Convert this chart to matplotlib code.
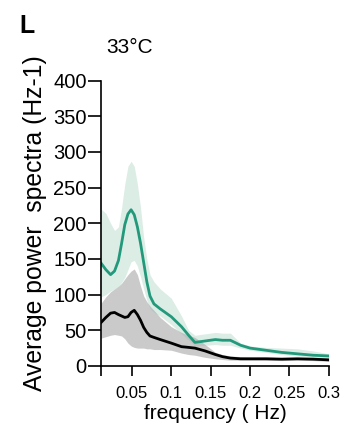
import matplotlib
matplotlib.use("Agg")
import matplotlib.pyplot as plt
import numpy as np

plt.rcParams["font.family"] = ["Liberation Sans", "DejaVu Sans"]

# frequency grid (Hz)
freq = [0.011, 0.017, 0.023, 0.028, 0.033, 0.037, 0.041, 0.045, 0.049, 0.053,
        0.057, 0.061, 0.065, 0.069, 0.073, 0.078, 0.086, 0.1, 0.113, 0.122,
        0.13, 0.143, 0.156, 0.165, 0.175, 0.188, 0.2, 0.22, 0.24, 0.26,
        0.28, 0.3]

# green series (mean and band)
green_mean = [144, 135, 128, 133, 148, 172, 198, 213, 219, 212,
              195, 172, 145, 118, 98, 87, 80, 69, 55, 43,
              33, 35, 37, 36, 36, 29, 25, 22, 19, 17,
              15, 14]
green_upper = [220, 214, 200, 190, 195, 222, 255, 280, 287, 280,
               255, 222, 180, 150, 128, 118, 108, 95, 70, 50,
               43, 45, 47, 46, 46, 32, 28, 26, 25, 24,
               21, 17]
green_lower = [97, 100, 105, 108, 112, 117, 124, 135, 146, 148,
               140, 125, 108, 92, 80, 75, 70, 58, 45, 36,
               28, 29, 30, 29, 29, 25, 22, 19, 16, 14,
               12, 11]

# black series (mean and band)
black_mean = [61, 68, 74, 75, 72, 70, 68, 69, 75, 78,
              72, 64, 54, 47, 42, 40, 37, 32, 27, 26,
              25, 21, 16, 13, 11, 10, 10, 10, 9.5, 10,
              9.5, 8.5]
black_upper = [88, 97, 104, 108, 112, 116, 122, 128, 133, 136,
               128, 112, 98, 90, 84, 78, 68, 55, 47, 43,
               40, 30, 19, 16, 14, 13, 12.5, 12.5, 12, 12,
               12, 11]
black_lower = [39, 41, 43, 44, 43, 42, 38, 32, 28, 26,
               25, 25, 25, 24, 24, 23, 23, 22, 18, 16,
               15, 12, 10, 9, 8, 8, 8, 8, 7.5, 8,
               7.5, 6.5]

xticks = [0.011, 0.05, 0.1, 0.15, 0.2, 0.25, 0.3]
xticklabels = ["", "0.05", "0.1", "0.15", "0.2", "0.25", "0.3"]
yticks = [0, 50, 100, 150, 200, 250, 300, 350, 400]

fig = plt.figure(figsize=(3.44, 4.29), dpi=100)
ax = fig.add_axes([0.294, 0.147, 0.662, 0.665])

ax.fill_between(freq, green_lower, green_upper, color="#dcede6", lw=0)
ax.fill_between(freq, black_lower, black_upper, color="#a8a8a8", alpha=0.6, lw=0)
ax.plot(freq, green_mean, color="#22997a", lw=2)
ax.plot(freq, black_mean, color="black", lw=2)

ax.set_xlim(0.011, 0.3)
ax.set_ylim(0, 400)
ax.set_xticks(xticks)
ax.set_xticklabels(xticklabels, fontsize=12)
ax.set_yticks(yticks)
ax.tick_params(axis="y", labelsize=14.5, length=9.5, width=1.2, pad=1)
ax.tick_params(axis="x", length=7.5, width=1.2, pad=7)
for s in ["top", "right"]:
    ax.spines[s].set_visible(False)
for s in ["left", "bottom"]:
    ax.spines[s].set_linewidth(1.2)

ax.set_xlabel("frequency ( Hz)", fontsize=15, labelpad=2)
ax.set_ylabel("Average power  spectra (Hz-1)", fontsize=17.8, labelpad=4)

fig.text(106 / 344, 1 - 53 / 429, "33°C", fontsize=15, ha="left", va="baseline")
fig.text(19 / 344, 1 - 33 / 429, "L", fontsize=18, fontweight="bold",
         ha="left", va="baseline")

fig.savefig("out.png", dpi=100)
